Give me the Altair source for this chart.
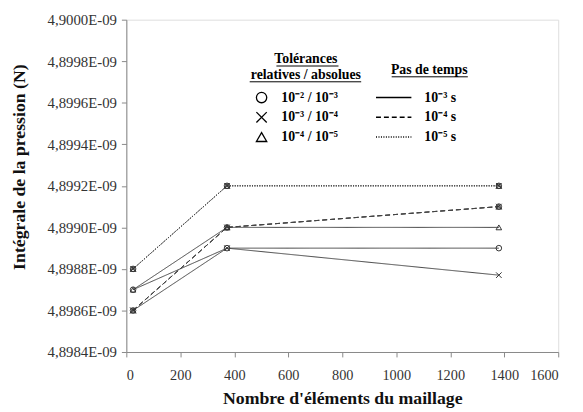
import altair as alt
import pandas as pd

# ---------------- data ----------------
mesh_elements = [25, 373, 1380]

tol_labels = ["10⁻² / 10⁻³", "10⁻³ / 10⁻⁴", "10⁻⁴ / 10⁻⁵"]
dt_labels = ["10⁻³ s", "10⁻⁴ s", "10⁻⁵ s"]

# pressure integral (N) for each (time step, tolerance)
p_dt3_tol2 = [4.8987e-9, 4.8989e-9, 4.8989e-9]
p_dt3_tol3 = [4.8986e-9, 4.8989e-9, 4.89877e-9]
p_dt3_tol4 = [4.8987e-9, 4.8990e-9, 4.8990e-9]
p_dt4_tol2 = [4.8986e-9, 4.8990e-9, 4.8991e-9]
p_dt4_tol3 = [4.8986e-9, 4.8990e-9, 4.8991e-9]
p_dt4_tol4 = [4.8986e-9, 4.8990e-9, 4.8991e-9]
p_dt5_tol2 = [4.8988e-9, 4.8992e-9, 4.8992e-9]
p_dt5_tol3 = [4.8988e-9, 4.8992e-9, 4.8992e-9]
p_dt5_tol4 = [4.8988e-9, 4.8992e-9, 4.8992e-9]

y_ticks = [4.8984e-9, 4.8986e-9, 4.8988e-9, 4.8990e-9, 4.8992e-9,
           4.8994e-9, 4.8996e-9, 4.8998e-9, 4.9000e-9]
x_ticks = [0, 200, 400, 600, 800, 1000, 1200, 1400, 1600]

series = {
    (0, 0): p_dt3_tol2, (0, 1): p_dt3_tol3, (0, 2): p_dt3_tol4,
    (1, 0): p_dt4_tol2, (1, 1): p_dt4_tol3, (1, 2): p_dt4_tol4,
    (2, 0): p_dt5_tol2, (2, 1): p_dt5_tol3, (2, 2): p_dt5_tol4,
}
rows = []
for (di, ti), vals in series.items():
    for x, v in zip(mesh_elements, vals):
        rows.append({"x": x, "y": v, "dt": dt_labels[di], "tol": tol_labels[ti],
                     "sid": f"{di}-{ti}"})
df = pd.DataFrame(rows)

# legend block (placed in data space)
leg_marker_x = 501
leg_text_x = 574
leg_line_x1, leg_line_x2 = 925, 1056
leg_dt_text_x = 1104
leg_rows_y = [4.899625e-9, 4.899530e-9, 4.899435e-9]

leg_markers = pd.DataFrame({"x": [leg_marker_x] * 3, "y": leg_rows_y, "tol": tol_labels})
leg_tol_text = pd.DataFrame({"x": [leg_text_x] * 3, "y": leg_rows_y, "t": tol_labels})
leg_lines = pd.DataFrame({"x": [leg_line_x1] * 3, "x2": [leg_line_x2] * 3,
                          "y": leg_rows_y, "dt": dt_labels})
leg_dt_text = pd.DataFrame({"x": [leg_dt_text_x] * 3, "y": leg_rows_y, "t": dt_labels})
leg_heads = pd.DataFrame({
    "x": [665, 665, 1122],
    "y": [4.899810e-9, 4.899734e-9, 4.899758e-9],
    "t": ["Tolérances", "relatives / absolues", "Pas de temps"],
})
leg_under = pd.DataFrame({
    "x": [556, 457, 983],
    "x2": [786, 870, 1265],
    "y": [4.899777e-9, 4.899701e-9, 4.899725e-9],
})

# ---------------- scales / encodings ----------------
FONT = "'Liberation Serif', 'Times New Roman', Times, serif"
xs = alt.Scale(domain=[0, 1600], nice=False, zero=False)
ys = alt.Scale(domain=[4.8984e-9, 4.9000e-9], nice=False, zero=False)
shape_scale = alt.Scale(domain=tol_labels,
                        range=["circle", "M-1,-1L1,1M-1,1L1,-1", "triangle-up"])
dash_scale = alt.Scale(domain=dt_labels, range=[[1, 0], [5, 3], [1, 1.5]])

x_axis = alt.Axis(values=x_ticks, format="d", title="Nombre d'éléments du maillage",
                  grid=False,
                  labelFont=FONT, labelFontSize=14.5, labelColor="#333", labelPadding=12,
                  titleFont=FONT, titleFontSize=18, titleFontWeight="bold",
                  titleColor="#111", titleY=52, titleBaseline="alphabetic",
                  tickSize=5, tickColor="#888", domainColor="#888")
y_axis = alt.Axis(values=y_ticks, title="Intégrale de la pression (N)", grid=False,
                  labelExpr="replace(format(datum.value*1e9, '.4f'), '.', ',') + 'E-09'",
                  labelFont=FONT, labelFontSize=15, labelColor="#333", labelPadding=5,
                  titleFont=FONT, titleFontSize=18, titleFontWeight="bold",
                  titleColor="#111", titleX=-108, titleY=149, titleAngle=-90,
                  titleAlign="center", titleBaseline="middle",
                  tickSize=5, tickColor="#888", domainColor="#888")

X = alt.X("x:Q", scale=xs, axis=x_axis)
Y = alt.Y("y:Q", scale=ys, axis=y_axis)

lines = alt.Chart(df).mark_line(color="#444", strokeWidth=1).encode(
    x=X, y=Y,
    detail="sid:N",
    strokeDash=alt.StrokeDash("dt:N", scale=dash_scale, legend=None),
)
points = alt.Chart(df).mark_point(filled=False, color="#333", size=32, strokeWidth=1,
                                  opacity=1).encode(
    x=X, y=Y,
    shape=alt.Shape("tol:N", scale=shape_scale, legend=None),
)

lm = alt.Chart(leg_markers).mark_point(filled=False, color="#000", size=110,
                                       strokeWidth=1.3, opacity=1).encode(
    x=X, y=Y, shape=alt.Shape("tol:N", scale=shape_scale, legend=None))
lt = alt.Chart(leg_tol_text).mark_text(align="left", baseline="middle", font=FONT,
                                       fontSize=14, fontWeight="bold", color="#000").encode(
    x=X, y=Y, text="t:N")
ll = alt.Chart(leg_lines).mark_rule(color="#000", strokeWidth=1.6).encode(
    x=X, x2="x2:Q", y=Y,
    strokeDash=alt.StrokeDash("dt:N", scale=dash_scale, legend=None))
ldt = alt.Chart(leg_dt_text).mark_text(align="left", baseline="middle", font=FONT,
                                       fontSize=14, fontWeight="bold", color="#000").encode(
    x=X, y=Y, text="t:N")
lh = alt.Chart(leg_heads).mark_text(align="center", baseline="middle", font=FONT,
                                    fontSize=14, fontWeight="bold", color="#000").encode(
    x=X, y=Y, text="t:N")
lu = alt.Chart(leg_under).mark_rule(color="#000", strokeWidth=1).encode(
    x=X, x2="x2:Q", y=Y)

chart = alt.layer(lines, points, lm, lt, ll, ldt, lh, lu).properties(
    width=438, height=337,
    autosize=alt.AutoSizeParams(type="none"),
    padding={"left": 120, "top": 9, "right": 17, "bottom": 58},
    background="white",
).configure_view(stroke=None).configure(font=FONT)

chart.save("out.html", embed_options={"renderer": "svg", "actions": False})
